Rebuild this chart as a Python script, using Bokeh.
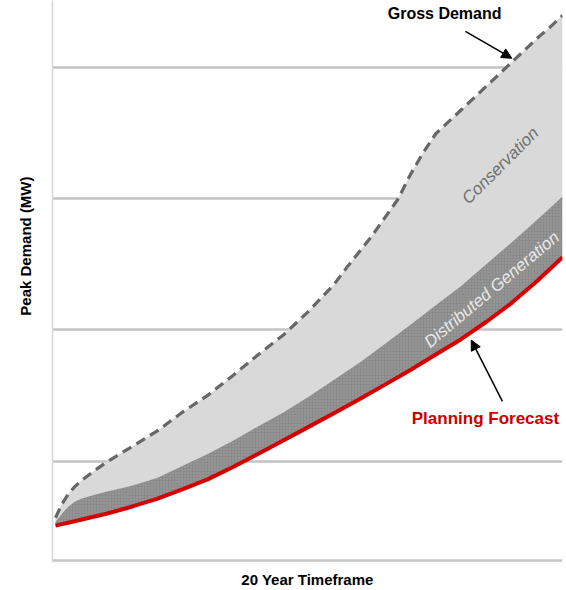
import numpy as np
from bokeh.plotting import figure
from bokeh.models import FixedTicker, Label, Arrow, NormalHead, Range1d
from bokeh.embed import file_html
from bokeh.resources import INLINE

# ---- data ----
gross_years = [0, 0.25, 0.5, 0.75, 1, 1.5, 2, 2.5, 3, 4, 5, 6, 7, 8, 9, 10, 11, 11.5,
               12, 12.5, 13, 13.5, 14, 14.5, 15, 15.5, 16, 16.5, 17, 17.5, 18, 18.5,
               19, 19.5, 20]
gross_demand = [568, 672, 748, 803, 848, 922, 990, 1050, 1108, 1227, 1371, 1500, 1652,
                1811, 1962, 2144, 2348, 2477, 2598, 2720, 2856, 2992, 3182, 3348, 3493,
                3583, 3674, 3765, 3856, 3947, 4038, 4129, 4220, 4303, 4394]

forecast_years = [0, 0.25, 0.5, 0.75, 1, 1.5, 2, 3, 4, 5, 6, 7, 8, 9, 10, 11, 12, 13,
                  14, 15, 16, 17, 18, 19, 20]
after_conservation = [538, 598, 652, 689, 712, 742, 765, 811, 871, 962, 1053, 1155,
                      1265, 1371, 1492, 1621, 1750, 1894, 2038, 2186, 2333, 2500, 2667,
                      2837, 3015]
planning_forecast = [508, 519, 530, 541, 553, 575, 598, 652, 712, 784, 860, 955, 1056,
                     1159, 1262, 1366, 1472, 1582, 1694, 1811, 1928, 2061, 2205, 2371,
                     2553]
grid_levels = [242, 1000, 2000, 3000, 4000]

FONT = "Liberation Sans"
NBSP = "\u00a0"

p = figure(width=566, height=590, output_backend="svg", toolbar_location=None,
           x_range=Range1d(-0.12, 20.0), y_range=Range1d(227, 4508),
           min_border_left=52, min_border_right=4, min_border_top=0, min_border_bottom=25,
           background_fill_color="white", border_fill_color="white")
p.outline_line_color = None

# grid
p.xgrid.grid_line_color = None
p.ygrid.ticker = FixedTicker(ticks=grid_levels)
p.ygrid.grid_line_color = "#c4c4c4"
p.ygrid.grid_line_width = 2.5

# axes
for ax in (p.xaxis[0], p.yaxis[0]):
    ax.ticker = FixedTicker(ticks=[])
    ax.major_tick_line_color = None
    ax.minor_tick_line_color = None
    ax.major_tick_in = 0
    ax.major_tick_out = 0
    ax.major_label_standoff = 0
p.xaxis.axis_line_color = None
p.yaxis.axis_line_color = "#d6d6d6"
p.yaxis.axis_line_width = 1.5
p.xaxis.axis_label = "20 Year Timeframe"
p.yaxis.axis_label = NBSP * 17 + "Peak Demand (MW)"
for ax in (p.xaxis[0], p.yaxis[0]):
    ax.axis_label_text_font = FONT
    ax.axis_label_text_font_style = "bold"
    ax.axis_label_text_font_size = "15px"
    ax.axis_label_text_color = "black"
p.xaxis.axis_label_standoff = 8
p.yaxis.axis_label_standoff = 19

# areas
cons_x = gross_years + forecast_years[::-1]
cons_y = gross_demand + after_conservation[::-1]
p.patch(cons_x, cons_y, fill_color="#d9d9d9", line_color=None)
p.varea(x=forecast_years, y1=planning_forecast, y2=after_conservation, fill_color="#8b8b8b",
        hatch_pattern="dot", hatch_color="#a8a8a8", hatch_scale=3, hatch_weight=1)

# lines
p.line(gross_years, gross_demand, line_color="#676767", line_width=3.2, line_dash="10 6")
p.line(forecast_years, planning_forecast, line_color="#d60000", line_width=4)

# annotations
p.add_layout(Label(x=15.35, y=4409, text="Gross Demand", text_align="center",
                   text_baseline="middle", text_font=FONT, text_font_style="bold",
                   text_font_size="16px", text_color="black"))
i18 = gross_years.index(18)
p.add_layout(Arrow(x_start=16.17, y_start=4273, x_end=gross_years[i18], y_end=gross_demand[i18] + 30,
                   line_color="black", line_width=1.5,
                   end=NormalHead(size=10, fill_color="black", line_color="black")))

p.add_layout(Label(x=16.96, y=1326, text="Planning Forecast", text_align="center",
                   text_baseline="middle", text_font=FONT, text_font_style="bold",
                   text_font_size="17px", text_color="#cc0000"))
tip_x = 16.4
tip_y = float(np.interp(tip_x, forecast_years, planning_forecast)) - 60
p.add_layout(Arrow(x_start=17.63, y_start=1455, x_end=tip_x, y_end=tip_y,
                   line_color="black", line_width=1.5,
                   end=NormalHead(size=10, fill_color="black", line_color="black")))

p.add_layout(Label(x=17.55, y=3250, text="Conservation", angle=np.deg2rad(45),
                   text_align="center", text_baseline="middle", text_font=FONT,
                   text_font_style="italic", text_font_size="17px", text_color="#707070"))
p.add_layout(Label(x=17.28, y=2318, text="Distributed  Generation", angle=np.deg2rad(40),
                   text_align="center", text_baseline="middle", text_font=FONT,
                   text_font_style="italic", text_font_size="17px", text_color="#e8e8e8"))

open("out.html", "w").write(file_html(p, INLINE))
